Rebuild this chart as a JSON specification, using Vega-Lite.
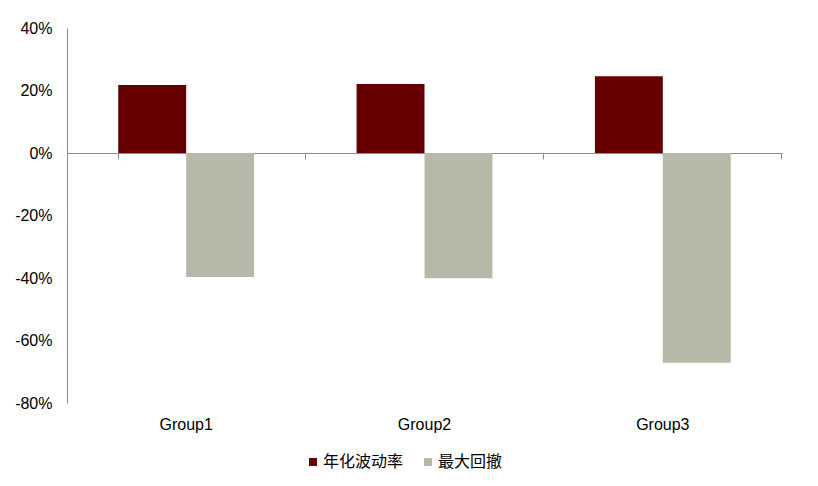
{
  "$schema": "https://vega.github.io/schema/vega-lite/v6.json",
  "width": 715,
  "height": 375,
  "autosize": {"type": "none"},
  "padding": {"left": 67, "top": 28, "right": 36, "bottom": 83},
  "background": "white",
  "config": {
    "view": {"stroke": null},
    "font": "Liberation Sans"
  },
  "data": {
    "values": [
      {"group": "Group1", "metric": "年化波动率", "value": 0.218},
      {"group": "Group1", "metric": "最大回撤", "value": -0.397},
      {"group": "Group2", "metric": "年化波动率", "value": 0.221},
      {"group": "Group2", "metric": "最大回撤", "value": -0.401},
      {"group": "Group3", "metric": "年化波动率", "value": 0.246},
      {"group": "Group3", "metric": "最大回撤", "value": -0.671}
    ]
  },
  "resolve": {"axis": {"x": "independent"}},
  "layer": [
    {
      "mark": {"type": "bar"},
      "encoding": {
        "x": {
          "field": "group",
          "type": "nominal",
          "sort": ["Group1", "Group2", "Group3"],
          "scale": {"paddingInner": 0.43, "paddingOuter": 0.215},
          "axis": {
            "orient": "bottom",
            "title": null,
            "domain": false,
            "ticks": false,
            "labelAngle": 0,
            "labelFont": "Liberation Sans",
            "labelFontSize": 16,
            "labelColor": "#000000",
            "labelPadding": 13
          }
        },
        "xOffset": {
          "field": "metric",
          "type": "nominal",
          "sort": ["年化波动率", "最大回撤"],
          "scale": {"paddingInner": 0, "paddingOuter": 0}
        },
        "y": {
          "field": "value",
          "type": "quantitative",
          "scale": {"domain": [-0.8, 0.4], "nice": false, "zero": false},
          "axis": {
            "title": null,
            "values": [-0.8, -0.6, -0.4, -0.2, 0, 0.2, 0.4],
            "labelExpr": "(datum.value < -0.0001 ? '-' : '') + format(abs(datum.value) * 100, '.0f') + '%'",
            "grid": false,
            "ticks": false,
            "domainColor": "#8c8c8c",
            "domainWidth": 1,
            "labelFont": "Liberation Sans",
            "labelFontSize": 16,
            "labelColor": "#000000",
            "labelPadding": 15
          }
        },
        "color": {
          "field": "metric",
          "type": "nominal",
          "scale": {"domain": ["年化波动率", "最大回撤"], "range": ["#660000", "#B8B8A8"]},
          "legend": {
            "title": null,
            "orient": "none",
            "direction": "horizontal",
            "legendX": 238,
            "legendY": 426,
            "symbolType": "square",
            "symbolSize": 64,
            "symbolStrokeWidth": 0,
            "labelFont": "Noto Sans CJK SC",
            "labelFontSize": 16,
            "labelColor": "#000000",
            "labelOffset": 2,
            "columnPadding": 16
          }
        }
      }
    },
    {
      "mark": {"type": "point", "opacity": 0},
      "encoding": {
        "x": {
          "field": "group",
          "type": "nominal",
          "sort": ["Group1", "Group2", "Group3"],
          "axis": {
            "orient": "top",
            "offset": -125,
            "title": null,
            "labels": false,
            "bandPosition": 1.377,
            "tickExtra": true,
            "domain": true,
            "domainColor": "#8c8c8c",
            "ticks": true,
            "tickColor": "#8c8c8c",
            "tickSize": -6,
            "grid": false
          }
        },
        "y": {"datum": 0, "type": "quantitative"}
      }
    }
  ]
}
